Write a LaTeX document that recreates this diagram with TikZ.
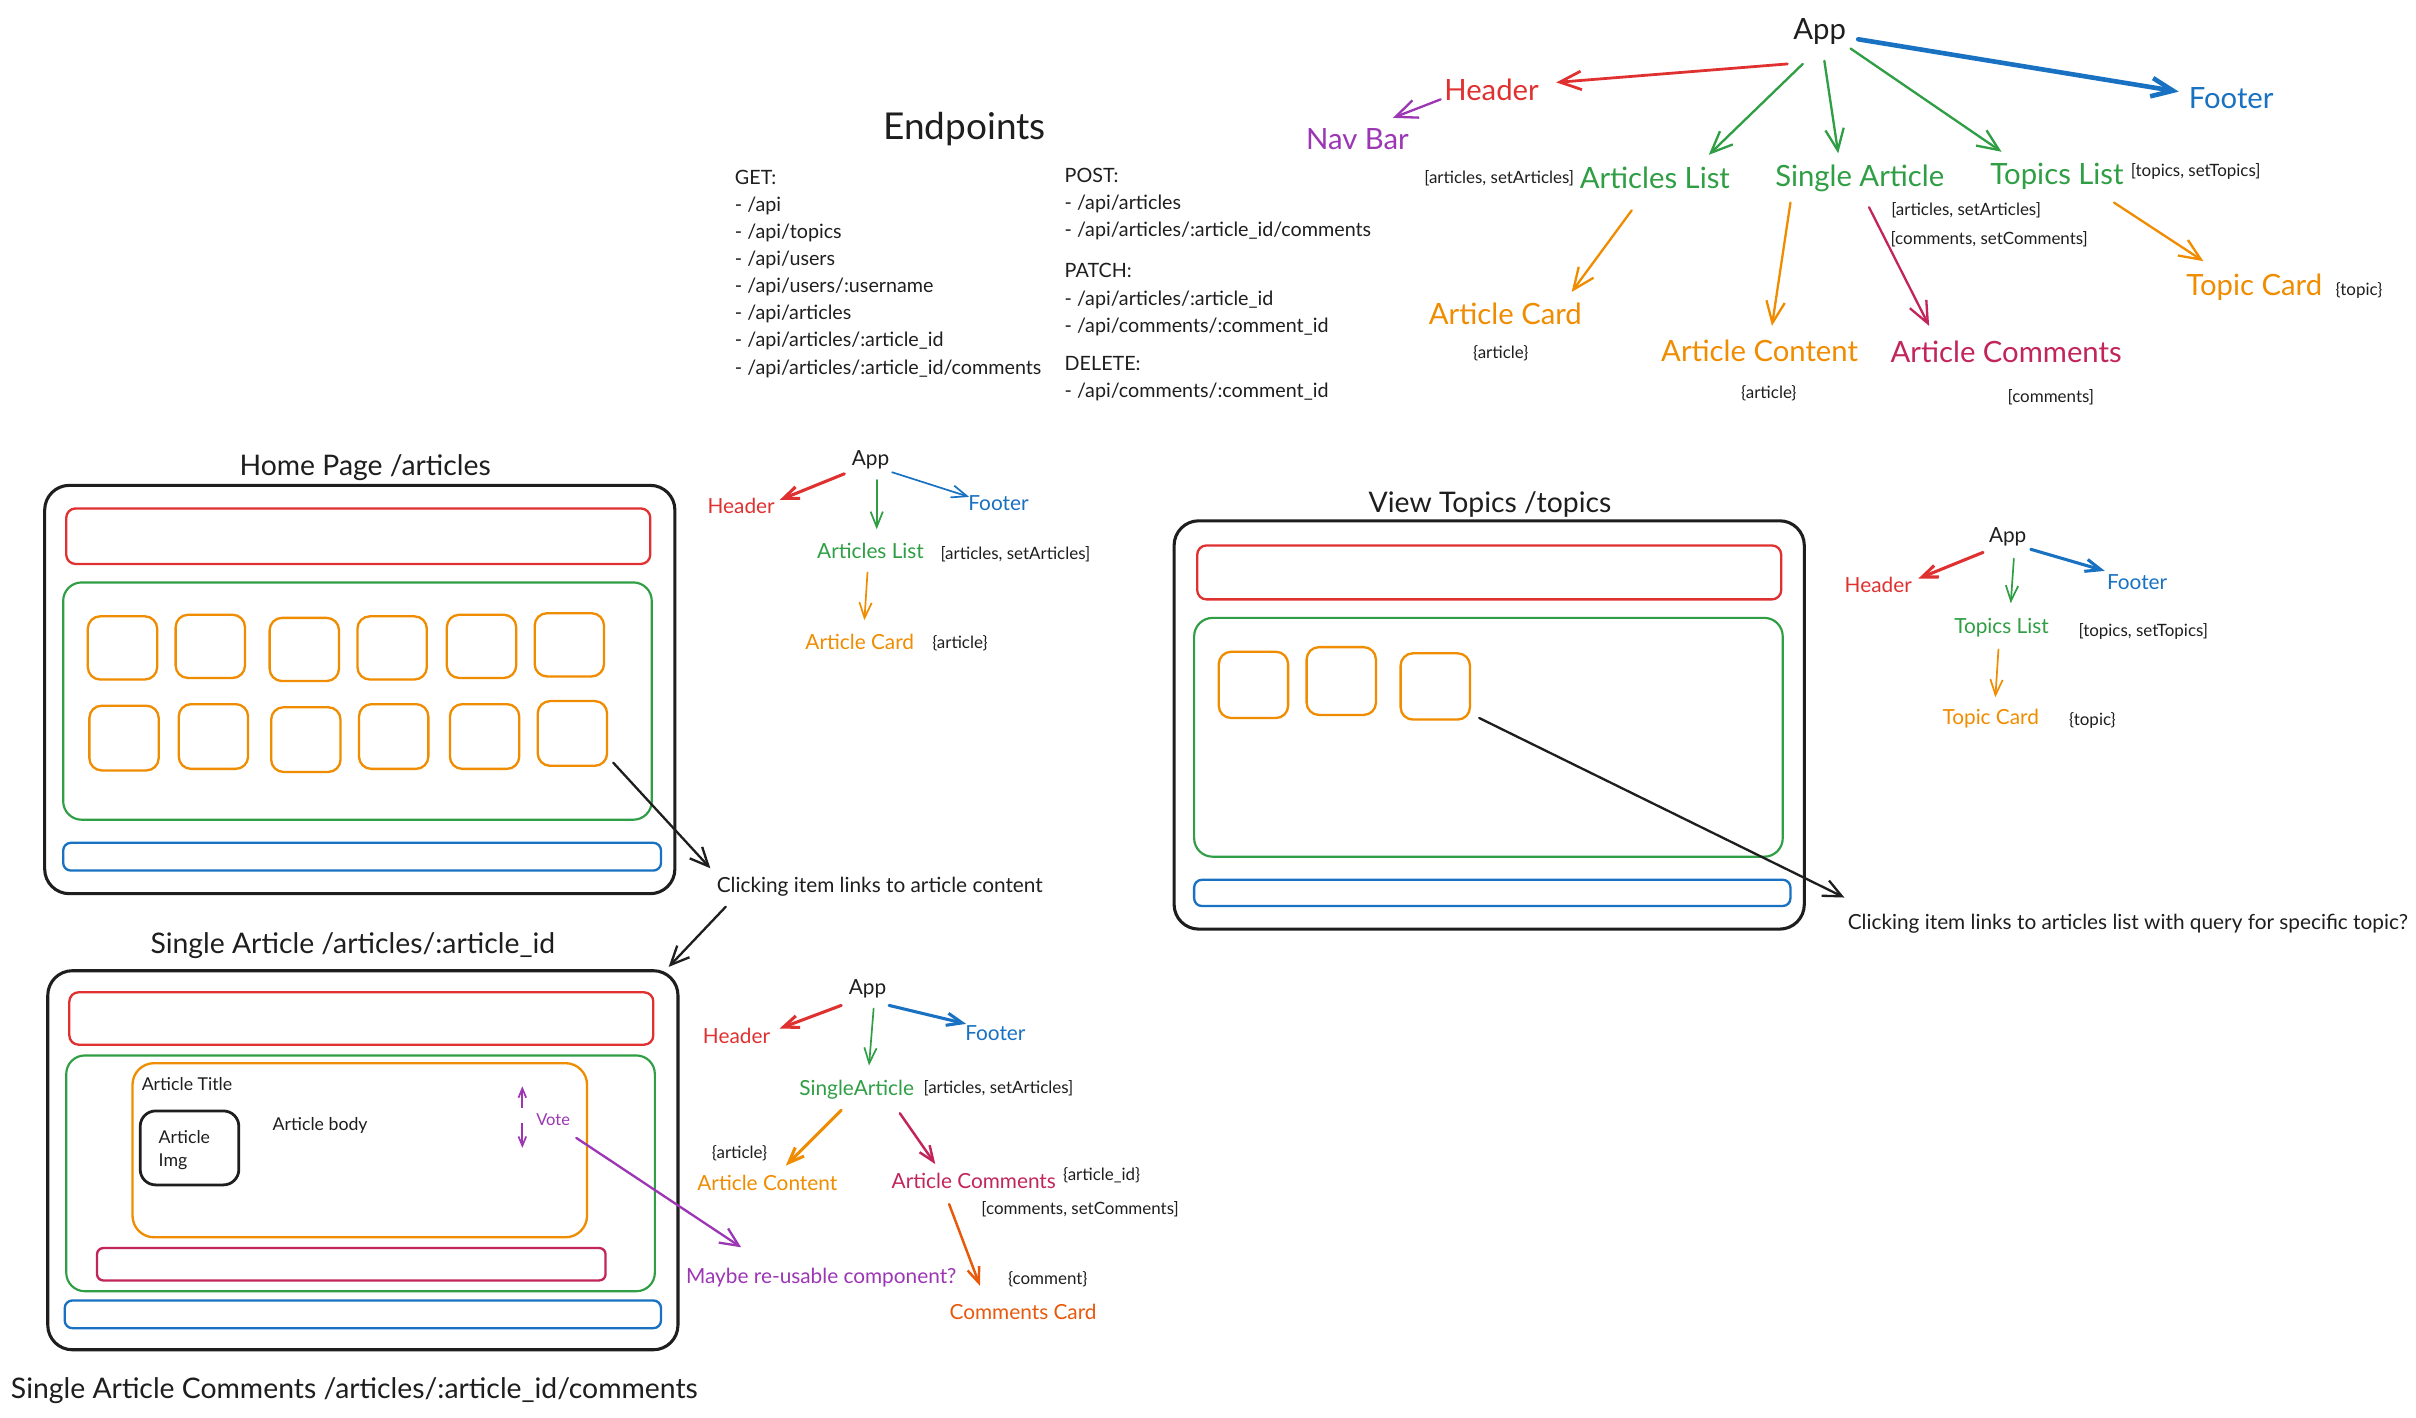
\documentclass[tikz,border=0pt]{standalone}
\usepackage{fontspec}
\setmainfont{Lato}
\usetikzlibrary{arrows.meta,calc}
\definecolor{exred}{HTML}{E03131}
\definecolor{exgreen}{HTML}{2F9E44}
\definecolor{exblue}{HTML}{1971C2}
\definecolor{exorange}{HTML}{F08C00}
\definecolor{expurple}{HTML}{9C36B5}
\definecolor{excrimson}{HTML}{C2255C}
\definecolor{exvermil}{HTML}{E8590C}
\definecolor{exblack}{HTML}{1E1E1E}
\newcommand\fTop{\fontsize{19}{22}\selectfont}
\newcommand\fMini{\fontsize{13.5}{16}\selectfont}
\newcommand\fTiny{\fontsize{11}{13}\selectfont}
\newcommand\fEnd{\fontsize{12.8}{17.6}\selectfont}
\newcommand\fEndT{\fontsize{24}{28}\selectfont}
\newcommand\fTitle{\fontsize{18.4}{22}\selectfont}
\newcommand\fIn{\fontsize{11.5}{15}\selectfont}
\newcommand\fVote{\fontsize{10.7}{13}\selectfont}
\newcommand{\exbox}[7]{%
  \node[#2, rounded corners=#7pt, inner sep=0pt, outer sep=0pt,
        minimum width={#5-#3}, minimum height={#6-#4}]
        (#1) at ({(#3+#5)/2},{(#4+#6)/2}) {};}
\tikzset{
  txt/.style={inner sep=0pt, outer sep=0pt, text=exblack, yshift=-1.5pt},
  lblTop/.style={txt, font=\fTop},
  lblMini/.style={txt, font=\fMini},
  lblTiny/.style={txt, font=\fTiny},
  lblTitle/.style={txt, font=\fTitle},
  lblIn/.style={txt, font=\fIn},
  bxBlack/.style={draw=exblack, line width=2pt},
  bxRed/.style={draw=exred, line width=1.5pt},
  bxGreen/.style={draw=exgreen, line width=1.4pt},
  bxBlue/.style={draw=exblue, line width=1.5pt},
  bxOrange/.style={draw=exorange, line width=1.5pt},
  bxCrimson/.style={draw=excrimson, line width=1.5pt},
  arrTop/.style={-{Straight Barb[length=14pt,width=12pt]}, line cap=round, line join=round, line width=1.5pt},
  arrMini/.style={-{Straight Barb[length=10pt,width=8pt]}, line cap=round, line join=round, line width=1.1pt},
  arrLink/.style={-{Straight Barb[length=12pt,width=11pt]}, line cap=round, line join=round, line width=1.5pt, draw=exblack},
}
\begin{document}
\begin{tikzpicture}[x=1pt,y=-1pt]
\useasboundingbox (0,0) rectangle (1568,920);
\fill[white] (0,0) rectangle (1568,920);

% ---------------- top component tree ----------------
\node[lblTop] (tapp) at (1181,19) {App};
\node[lblTop, text=exred] (thead) at (968,57) {Header};
\node[lblTop, text=expurple] (tnav) at (881,89) {Nav Bar};
\node[lblTop, text=exblue] (tfoot) at (1448,62) {Footer};
\node[lblTop, text=exgreen] (tal) at (1074,114) {Articles List};
\node[lblTop, text=exgreen] (tsa) at (1207,114) {Single Article};
\node[lblTop, text=exgreen] (ttl) at (1335,113) {Topics List};
\node[lblTiny] (ttls) at (1425,110) {[topics, setTopics]};
\node[lblTiny] (tals) at (973,114) {[articles, setArticles]};
\node[lblTop, text=exorange] (tac) at (977,202) {Article Card};
\node[lblTiny] (taca) at (974,228) {\{article\}};
\node[lblTop, text=exorange] (tcon) at (1142,226) {Article Content};
\node[lblTiny] (tcona) at (1148,254) {\{article\}};
\node[lblTop, text=excrimson] (tcom) at (1302,227) {Article Comments};
\node[lblTiny] (tcoma) at (1331,256) {[comments]};
\node[lblTiny] (tsas1) at (1276,135) {[articles, setArticles]};
\node[lblTiny] (tsas2) at (1291,154) {[comments, setComments]};
\node[lblTop, text=exorange] (ttc) at (1463,185) {Topic Card};
\node[lblTiny] (ttca) at (1531,187) {\{topic\}};

\draw[arrTop, exred, line width=1.8pt] ($(tapp)+(-21,21)$) -- ($(thead)+(42,-5)$);
\draw[arrTop, expurple] ($(thead)+(-33,6)$) -- ($(tnav)+(23,-14)$);
\draw[arrTop, exblue, line width=3pt] ($(tapp)+(25,5)$) -- ($(tfoot)+(-34,-4)$);
\draw[arrTop, exgreen] ($(tapp)+(-11,21)$) -- ($(tal)+(35,-15)$);
\draw[arrTop, exgreen] ($(tapp)+(3,19)$) -- ($(tsa)+(-14,-16)$);
\draw[arrTop, exgreen] ($(tapp)+(20,11)$) -- ($(ttl)+(-36,-16)$);
\draw[arrTop, exorange] ($(tal)+(-15,21)$) -- ($(tac)+(43,-14)$);
\draw[arrTop, exorange] ($(tsa)+(-45,16)$) -- ($(tcon)+(8,-16)$);
\draw[arrTop, excrimson] ($(tsa)+(6,19)$) -- ($(tcom)+(-50,-17)$);
\draw[arrTop, exorange] ($(ttl)+(37,17)$) -- ($(ttc)+(-33,-17)$);

% ---------------- endpoints ----------------
\node[txt, font=\fEndT] (ept) at (626,82) {Endpoints};
\node[txt, font=\fEnd, align=left, anchor=north west] (epget) at (477,108.8)
  {GET:\\- /api\\- /api/topics\\- /api/users\\- /api/users/:username\\- /api/articles\\- /api/articles/:article\_id\\- /api/articles/:article\_id/comments};
\node[txt, font=\fEnd, align=left, anchor=north west] (eppost) at (691,107.8)
  {POST:\\- /api/articles\\- /api/articles/:article\_id/comments\\[9pt]PATCH:\\- /api/articles/:article\_id\\- /api/comments/:comment\_id\\[7.5pt]DELETE:\\- /api/comments/:comment\_id};

% ---------------- home page ----------------
\node[lblTitle] (hometitle) at (237,302) {Home Page /articles};
\exbox{hframe}{bxBlack}{29}{315}{438}{580}{16}
\exbox{hhead}{bxRed}{43}{330}{422}{366}{6}
\exbox{hlist}{bxGreen}{41}{378}{423}{532}{12}
\exbox{hc1}{bxOrange}{57}{400}{102}{441}{8}
\exbox{hc2}{bxOrange}{114}{399}{159}{440}{8}
\exbox{hc3}{bxOrange}{175}{401}{220}{442}{8}
\exbox{hc4}{bxOrange}{232}{400}{277}{441}{8}
\exbox{hc5}{bxOrange}{290}{399}{335}{440}{8}
\exbox{hc6}{bxOrange}{347}{398}{392}{439}{8}
\exbox{hc7}{bxOrange}{58}{458}{103}{500}{8}
\exbox{hc8}{bxOrange}{116}{457}{161}{499}{8}
\exbox{hc9}{bxOrange}{176}{459}{221}{501}{8}
\exbox{hc10}{bxOrange}{233}{457}{278}{499}{8}
\exbox{hc11}{bxOrange}{292}{457}{337}{499}{8}
\exbox{hc12}{bxOrange}{349}{455}{394}{497}{8}
\exbox{hfoot}{bxBlue}{41}{547}{429}{565}{5}

\node[lblMini] (click1) at (571,574) {Clicking item links to article content};
\draw[arrLink] ($(hc12.south east)+(4,-2)$) -- ($(click1)+(-110,-12)$);

\node[lblMini] (happ) at (565,297) {App};
\node[lblMini, text=exred] (hhd) at (481,327) {Header};
\node[lblMini, text=exblue] (hft) at (648,325) {Footer};
\node[lblMini, text=exgreen] (hal) at (565,356) {Articles List};
\node[lblTiny] (hals) at (659,358) {[articles, setArticles]};
\node[lblMini, text=exorange] (hac) at (558,415) {Article Card};
\node[lblTiny] (haca) at (623,416) {\{article\}};
\draw[arrMini, exred, line width=2pt] ($(happ)+(-17,9)$) -- ($(hhd)+(25,-4)$);
\draw[arrMini, exblue] ($(happ)+(14,8)$) -- ($(hft)+(-19,-4)$);
\draw[arrMini, exgreen] ($(happ)+(4,13)$) -- ($(hal)+(4,-14)$);
\draw[arrMini, exorange] ($(hal)+(-2,14)$) -- ($(hac)+(3,-14)$);

% ---------------- single article ----------------
\node[lblTitle] (satitle) at (229,612) {Single Article /articles/:article\_id};
\draw[arrLink] ($(click1)+(-100,13)$) -- ($(satitle)+(205,14)$);
\exbox{saframe}{bxBlack}{31}{630}{440}{876}{16}
\exbox{sahead}{bxRed}{45}{644}{424}{678}{6}
\exbox{samain}{bxGreen}{43}{685}{425}{838}{12}
\exbox{sacontent}{bxOrange}{86}{690}{381}{803}{14}
\exbox{saimg}{bxBlack, line width=1.8pt}{91}{721}{155}{769}{10}
\exbox{sacomments}{bxCrimson}{63}{810}{393}{831}{4}
\exbox{safoot}{bxBlue}{42}{844}{429}{862}{5}
\node[lblIn, anchor=west] (sattl) at (92,702) {Article Title};
\node[lblIn, anchor=west, align=left, font=\fontsize{11.5}{15}\selectfont] (saimgt) at (103,745) {Article\\Img};
\node[lblIn, anchor=west] (sabody) at (177,729) {Article body};
\node[txt, font=\fVote, text=expurple] (savote) at (359,725) {Vote};
\coordinate (vupA) at (339,719);
\coordinate (vupB) at (339,705);
\coordinate (vdnA) at (339,729);
\coordinate (vdnB) at (339,745);
\draw[-{Straight Barb[length=6pt,width=5pt]}, expurple, line width=1.1pt] (vupA) -- (vupB);
\draw[-{Straight Barb[length=6pt,width=5pt]}, expurple, line width=1.1pt] (vdnA) -- (vdnB);
\node[lblMini, text=expurple] (samaybe) at (533,828) {Maybe re-usable component?};
\draw[arrLink, draw=expurple] ($(savote)+(15,12)$) -- ($(samaybe)+(-52,-20)$);

\node[lblMini] (sapp) at (563,640) {App};
\node[lblMini, text=exred] (sahd) at (478,671) {Header};
\node[lblMini, text=exblue] (saft) at (646,669) {Footer};
\node[lblMini, text=exgreen] (sasa) at (556,706) {SingleArticle};
\node[lblTiny] (sasas) at (648,705) {[articles, setArticles]};
\node[lblMini, text=exorange] (saac) at (498,766) {Article Content};
\node[lblTiny] (saaca) at (480,747) {\{article\}};
\node[lblMini, text=excrimson] (sacm) at (632,765) {Article Comments};
\node[lblTiny] (sacmid) at (715,761) {\{article\_id\}};
\node[lblTiny] (sacmsc) at (701,783) {[comments, setComments]};
\node[lblMini, text=exvermil] (sacc) at (664,850) {Comments Card};
\node[lblTiny] (sacca) at (680,829) {\{comment\}};
\draw[arrMini, exred, line width=2pt] ($(sapp)+(-17,11)$) -- ($(sahd)+(28,-5)$);
\draw[arrMini, exblue, line width=2pt] ($(sapp)+(14,11)$) -- ($(saft)+(-19,-6)$);
\draw[arrMini, exgreen] ($(sapp)+(4,13)$) -- ($(sasa)+(8,-16)$);
\draw[arrMini, exorange, line width=2pt] ($(sasa)+(-10,13)$) -- ($(saac)+(12,-11)$);
\draw[arrMini, excrimson, line width=1.6pt] ($(sasa)+(28,15)$) -- ($(sacm)+(-25,-11)$);
\draw[arrMini, exvermil, line width=1.6pt] ($(sacm)+(-16,15)$) -- ($(sacc)+(-28,-17)$);

\node[lblTitle] (sactitle) at (230,901) {Single Article Comments /articles/:article\_id/comments};

% ---------------- view topics ----------------
\node[lblTitle] (tptitle) at (967,326) {View Topics /topics};
\exbox{tpframe}{bxBlack}{762}{338}{1171}{603}{16}
\exbox{tphead}{bxRed}{777}{354}{1156}{389}{6}
\exbox{tpmain}{bxGreen}{775}{401}{1157}{556}{12}
\exbox{tpc1}{bxOrange}{791}{423}{836}{466}{8}
\exbox{tpc2}{bxOrange}{848}{420}{893}{464}{8}
\exbox{tpc3}{bxOrange}{909}{424}{954}{467}{8}
\exbox{tpfoot}{bxBlue}{775}{571}{1162}{588}{5}
\node[lblMini] (click2) at (1381,598) {Clicking item links to articles list with query for specific topic?};
\draw[arrLink] ($(tpc3.south east)+(6,-1)$) -- ($(click2)+(-184,-17)$);

\node[lblMini] (tpapp) at (1303,347) {App};
\node[lblMini, text=exred] (tphd) at (1219,378) {Header};
\node[lblMini, text=exblue] (tpft) at (1387,376) {Footer};
\node[lblMini, text=exgreen] (tptl) at (1299,406) {Topics List};
\node[lblTiny] (tptls) at (1391,408) {[topics, setTopics]};
\node[lblMini, text=exorange] (tptc) at (1292,465) {Topic Card};
\node[lblTiny] (tptca) at (1358,466) {\{topic\}};
\draw[arrMini, exred, line width=2pt] ($(tpapp)+(-16,10)$) -- ($(tphd)+(26,-4)$);
\draw[arrMini, exblue, line width=2pt] ($(tpapp)+(15,8)$) -- ($(tpft)+(-21,-7)$);
\draw[arrMini, exgreen] ($(tpapp)+(4,14)$) -- ($(tptl)+(6,-16)$);
\draw[arrMini, exorange] ($(tptl)+(-2,14)$) -- ($(tptc)+(3,-14)$);
\end{tikzpicture}
\end{document}
